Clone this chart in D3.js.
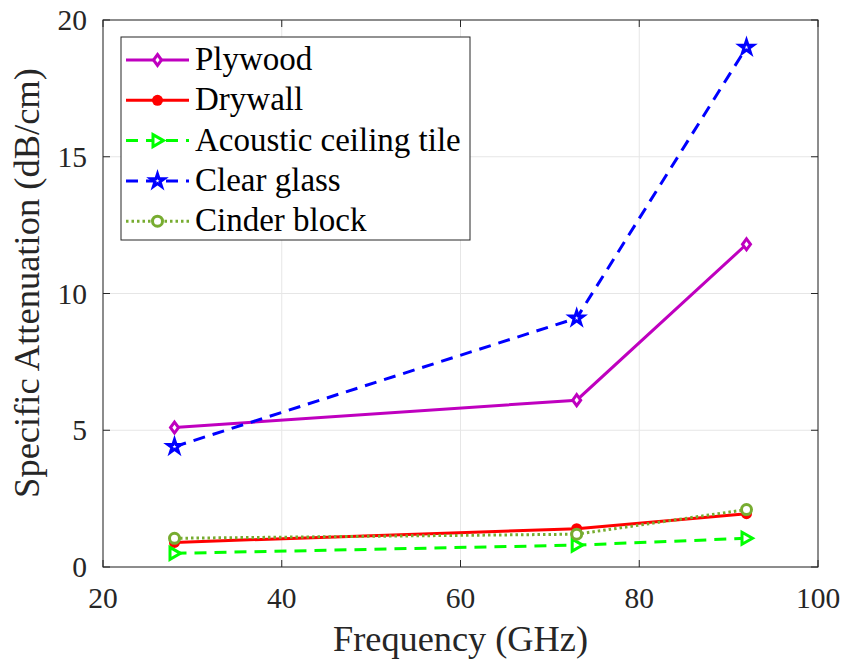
<!DOCTYPE html>
<html>
<head>
<meta charset="utf-8">
<script src="https://cdn.jsdelivr.net/npm/d3@7"></script>
<style>
  body { margin: 0; background: #fff; }
</style>
</head>
<body>
<div id="viz"></div>
<script>
// data
let freqs = [28, 73, 92]
let plywood = [5.1, 6.1, 11.8]
let drywall = [0.9, 1.4, 1.95]
let acoustic = [0.5, 0.8, 1.05]
let clearGlass = [4.4, 9.1, 19.0]
let cinderBlock = [1.05, 1.2, 2.1]
let seriesNames = ['Plywood', 'Drywall', 'Acoustic ceiling tile', 'Clear glass', 'Cinder block']
let xTicks = [20, 40, 60, 80, 100]
let yTicks = [0, 5, 10, 15, 20]

let svgWidth = 843, svgHeight = 665
let margin = { left: 103, right: 25, top: 20, bottom: 98 }
let width = svgWidth - margin.left - margin.right
let height = svgHeight - margin.top - margin.bottom
let serif = "'Liberation Serif'"

const svg = d3.select('#viz').append('svg')
    .attr('width', svgWidth)
    .attr('height', svgHeight)

const g = svg.append('g').attr('transform', `translate(${margin.left},${margin.top})`)

let x = d3.scaleLinear().domain([20, 100]).range([0, width])
let y = d3.scaleLinear().domain([0, 20]).range([height, 0])

// grid
g.append('g').selectAll('line').data(xTicks).join('line')
    .attr('x1', d => x(d)).attr('x2', d => x(d))
    .attr('y1', 0).attr('y2', height)
    .attr('stroke', '#e6e6e6').attr('stroke-width', 1)
g.append('g').selectAll('line').data(yTicks).join('line')
    .attr('y1', d => y(d)).attr('y2', d => y(d))
    .attr('x1', 0).attr('x2', width)
    .attr('stroke', '#e6e6e6').attr('stroke-width', 1)

// series
let styles = [
    { vals: plywood, color: '#bf00bf', dash: null, marker: 'diamond' },
    { vals: drywall, color: '#ff0000', dash: null, marker: 'dot' },
    { vals: acoustic, color: '#00ff00', dash: '12,8', marker: 'triangle' },
    { vals: clearGlass, color: '#0000ff', dash: '12,8', marker: 'star' },
    { vals: cinderBlock, color: '#77ac30', dash: '2.5,3', marker: 'circle' }
]

let line = d3.line().x(d => x(d[0])).y(d => y(d[1]))

function drawMarker(sel, type, color) {
    if (type === 'diamond') {
        sel.append('path').attr('d', 'M0,-5.5 L4,0 L0,5.5 L-4,0 Z')
            .attr('fill', 'white').attr('stroke', color).attr('stroke-width', 3)
    } else if (type === 'dot') {
        sel.append('circle').attr('r', 5.5).attr('fill', color)
    } else if (type === 'triangle') {
        sel.append('path').attr('d', 'M-4.5,-6 L6,0 L-4.5,6 Z')
            .attr('fill', 'white').attr('stroke', color).attr('stroke-width', 3)
    } else if (type === 'star') {
        sel.append('path').attr('d', d3.symbol(d3.symbolStar, 55)())
            .attr('fill', 'white').attr('stroke', color).attr('stroke-width', 3)
    } else {
        sel.append('circle').attr('r', 5)
            .attr('fill', 'white').attr('stroke', color).attr('stroke-width', 3)
    }
}

styles.forEach(s => {
    let pts = freqs.map((f, i) => [f, s.vals[i]])
    g.append('path').datum(pts)
        .attr('d', line)
        .attr('fill', 'none')
        .attr('stroke', s.color)
        .attr('stroke-width', 3)
        .attr('stroke-dasharray', s.dash)
    pts.forEach(p => {
        let m = g.append('g').attr('transform', `translate(${x(p[0])},${y(p[1])})`)
        drawMarker(m, s.marker, s.color)
    })
})

// frame & ticks
g.append('rect').attr('x', 0).attr('y', 0).attr('width', width).attr('height', height)
    .attr('fill', 'none').attr('stroke', '#262626').attr('stroke-width', 1)
g.append('g').selectAll('line').data(xTicks).join('line')
    .attr('x1', d => x(d)).attr('x2', d => x(d))
    .attr('y1', height).attr('y2', height - 7)
    .attr('stroke', '#262626')
g.append('g').selectAll('line').data(xTicks).join('line')
    .attr('x1', d => x(d)).attr('x2', d => x(d))
    .attr('y1', 0).attr('y2', 7)
    .attr('stroke', '#262626')
g.append('g').selectAll('line').data(yTicks).join('line')
    .attr('y1', d => y(d)).attr('y2', d => y(d))
    .attr('x1', 0).attr('x2', 7)
    .attr('stroke', '#262626')
g.append('g').selectAll('line').data(yTicks).join('line')
    .attr('y1', d => y(d)).attr('y2', d => y(d))
    .attr('x1', width).attr('x2', width - 7)
    .attr('stroke', '#262626')

// tick labels
g.append('g').selectAll('text').data(xTicks).join('text')
    .attr('x', d => x(d)).attr('y', height + 41)
    .attr('text-anchor', 'middle')
    .attr('font-size', 29.5)
    .style('font-family', serif)
    .attr('fill', '#262626')
    .text(d => d)
g.append('g').selectAll('text').data(yTicks).join('text')
    .attr('x', -16).attr('y', d => y(d) + 10)
    .attr('text-anchor', 'end')
    .attr('font-size', 29.5)
    .style('font-family', serif)
    .attr('fill', '#262626')
    .text(d => d)

// axis titles
svg.append('text')
    .attr('x', margin.left + width / 2).attr('y', 651)
    .attr('text-anchor', 'middle').attr('font-size', 36.3)
    .style('font-family', serif)
    .attr('fill', '#262626')
    .text('Frequency (GHz)')
svg.append('text')
    .attr('transform', `translate(39,283) rotate(-90)`)
    .attr('text-anchor', 'middle').attr('font-size', 36.5)
    .style('font-family', serif)
    .attr('fill', '#262626')
    .text('Specific Attenuation (dB/cm)')

// legend
let lg = svg.append('g').attr('transform', 'translate(121,37)')
lg.append('rect').attr('width', 349).attr('height', 203)
    .attr('fill', 'white').attr('stroke', '#262626').attr('stroke-width', 1)
styles.forEach((s, i) => {
    let yy = 23 + i * 40.3
    lg.append('line').attr('x1', 5).attr('x2', 68).attr('y1', yy).attr('y2', yy)
        .attr('stroke', s.color).attr('stroke-width', 3)
        .attr('stroke-dasharray', s.dash)
    let m = lg.append('g').attr('transform', `translate(36.5,${yy})`)
    drawMarker(m, s.marker, s.color)
    lg.append('text').attr('x', 74).attr('y', yy + 10)
        .attr('font-size', 33)
        .style('font-family', serif)
        .attr('fill', '#000')
        .text(seriesNames[i])
})
</script>
</body>
</html>
